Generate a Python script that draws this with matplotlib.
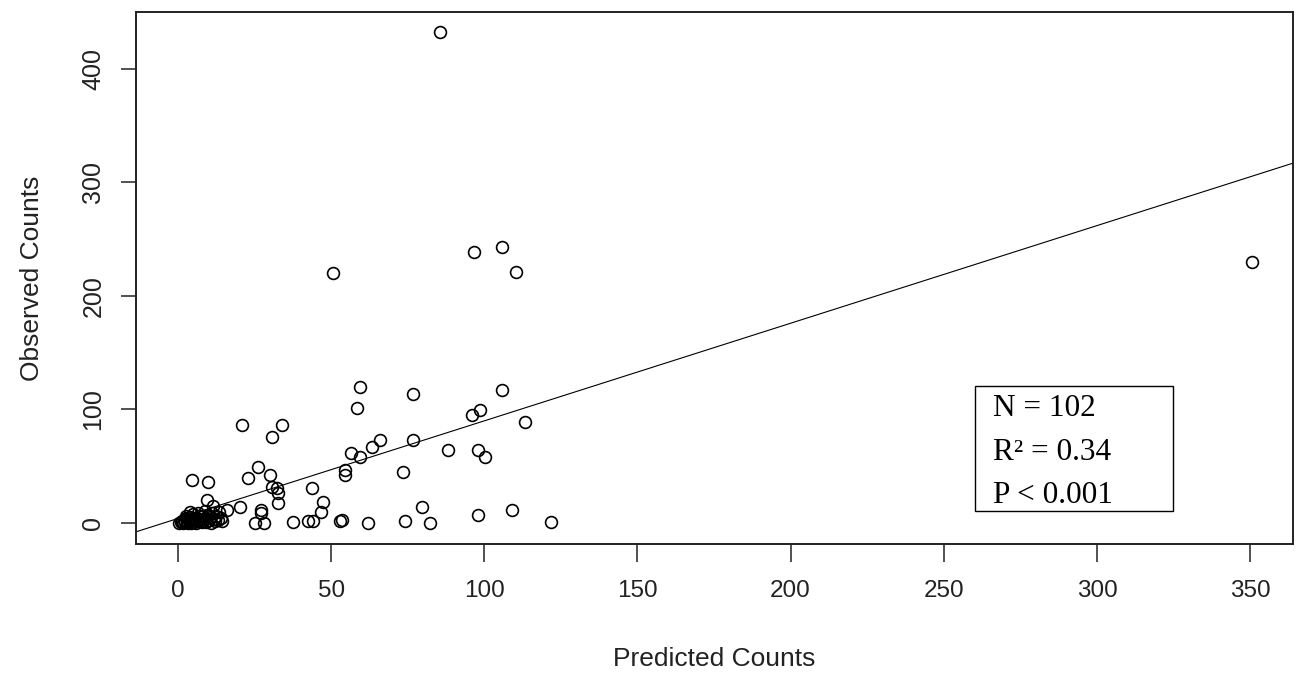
import matplotlib
matplotlib.use("Agg")
import matplotlib.pyplot as plt
from matplotlib.patches import Rectangle

plt.rcParams['font.family'] = ['Liberation Sans', 'DejaVu Sans']

# predicted vs observed counts per site
predicted = [85.5, 350.5, 105.9, 96.5, 110.2, 50.6, 59.4, 76.8, 105.9, 58.3,
             95.9, 98.6, 113.3, 20.8, 34.0, 30.8, 66.0, 76.8, 63.2, 88.2,
             97.9, 56.4, 59.4, 100.1, 26.2, 54.5, 54.5, 73.6, 30.0, 23.0,
             4.5, 9.9, 30.6, 32.2, 43.6, 32.7, 9.4, 47.4, 32.7, 11.5,
             20.2, 79.6, 15.9, 109.2, 27.0, 27.0, 46.8, 98.0, 25.1, 28.1,
             37.6, 42.5, 44.2, 52.9, 53.4, 62.1, 74.1, 82.3, 121.7,
             0.5, 1.0, 1.2, 1.8, 2.0, 2.3, 2.7, 3.0, 3.2, 3.5,
             3.8, 4.1, 4.4, 4.8, 5.0, 5.3, 5.6, 6.0, 6.2, 6.5,
             6.8, 7.1, 7.4, 7.8, 8.0, 8.3, 8.7, 9.0, 9.3, 9.7,
             10.0, 10.4, 10.8, 11.2, 11.6, 12.0, 12.5, 13.0, 13.5, 14.0,
             14.5, 2.5, 4.0]
observed = [433, 230, 243, 239, 221, 220, 120, 114, 117, 101,
            95, 99.6, 89, 86, 86, 75.6, 73, 73, 67.3, 64.3,
            64.3, 61.4, 57.9, 58.4, 49.6, 46.7, 42.3, 45.2, 42.3, 39.4,
            37.9, 35.8, 31.4, 30.6, 30.6, 26.1, 20.5, 18.8, 17.3, 15.0,
            14.4, 14.4, 11.5, 11.5, 11.5, 8.5, 10.0, 7.0, 0.0, 0.0,
            0.5, 2.0, 2.0, 2.0, 2.5, 0.0, 2.0, 0.0, 1.2,
            0.2, 0.5, 1.5, 0.3, 2.5, 0.8, 4.0, 1.2, 0.1, 3.0,
            5.5, 1.8, 0.4, 2.6, 7.5, 1.0, 4.3, 0.2, 2.0, 9.0,
            5.8, 1.4, 3.2, 0.6, 6.5, 2.2, 10.5, 4.0, 1.0, 7.0,
            2.8, 5.0, 0.3, 8.5, 3.5, 1.5, 6.0, 3.0, 9.5, 4.5,
            2.0, 6.5, 9.5]

# fitted line observed ~ predicted
intercept = 4.0
slope = 0.86

stats_lines = ["N = 102", "R\u00b2 = 0.34", "P < 0.001"]

fig = plt.figure(figsize=(12.96, 6.73), dpi=100)
ax = fig.add_axes([136 / 1296, 1 - 544 / 673, (1293 - 136) / 1296, (544 - 12) / 673])

ax.plot(predicted, observed, 'o', mfc='none', mec='black', ms=8.5, mew=1.2)
ax.axline((0, intercept), slope=slope, color='black', lw=0.8)

ax.set_xlim(-13.7, 364)
ax.set_ylim(-18.5, 450.2)
ax.set_xticks([0, 50, 100, 150, 200, 250, 300, 350])
ax.set_yticks([0, 100, 200, 300, 400])

for s in ax.spines.values():
    s.set_color('#222222')
    s.set_linewidth(1.4)

ax.tick_params(axis='x', length=13, width=1.1, color='#222222', pad=13,
               labelsize=17.5, labelcolor='#222222')
ax.tick_params(axis='y', length=11, width=1.1, color='#222222', pad=11,
               labelsize=18, labelcolor='#222222')
for lab in ax.get_yticklabels():
    lab.set_rotation(90)
    lab.set_va('center')

ax.set_xlabel("Predicted Counts", fontsize=19, color='#222222', labelpad=32)
ax.set_ylabel("Observed Counts", fontsize=19, color='#222222', labelpad=27)

# stats box
ax.add_patch(Rectangle((260.2, 10.6), 64.6, 110.0, fill=False,
                       edgecolor='black', lw=1.0, zorder=3))
for txt, yv in zip(stats_lines, [101, 62, 24]):
    ax.text(266.0, yv, txt, fontsize=22.5, family=['Liberation Serif', 'DejaVu Serif'],
            va='center', ha='left', color='black')

fig.savefig("out.png", dpi=100)
